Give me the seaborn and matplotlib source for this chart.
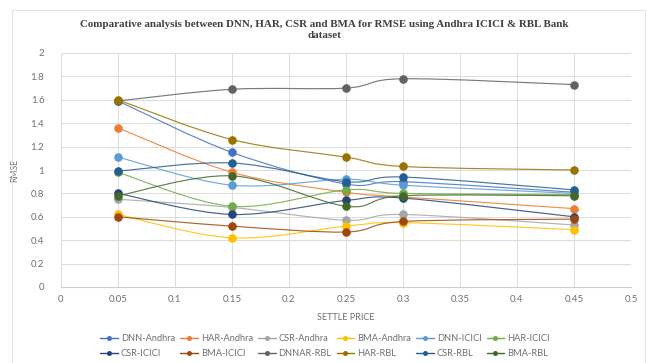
import numpy as np
import pandas as pd
import matplotlib
matplotlib.use("Agg")
import matplotlib.pyplot as plt
import seaborn as sns
from matplotlib.path import Path
from matplotlib.patches import PathPatch, Rectangle
from matplotlib.lines import Line2D

# ---------------- data ----------------
settle_price = [0.05, 0.15, 0.25, 0.3, 0.45]

series_names = ["DNN-Andhra", "HAR-Andhra", "CSR-Andhra", "BMA-Andhra",
                "DNN-ICICI", "HAR-ICICI", "CSR-ICICI", "BMA-ICICI",
                "DNNAR-RBL", "HAR-RBL", "CSR-RBL", "BMA-RBL"]

dnn_andhra = [1.59, 1.15, 0.88, 0.90, 0.81]
har_andhra = [1.36, 0.98, 0.81, 0.77, 0.67]
csr_andhra = [0.75, 0.68, 0.57, 0.62, 0.53]
bma_andhra = [0.62, 0.42, 0.52, 0.55, 0.49]
dnn_icici = [1.11, 0.87, 0.92, 0.87, 0.80]
har_icici = [0.98, 0.69, 0.83, 0.80, 0.79]
csr_icici = [0.80, 0.62, 0.74, 0.76, 0.60]
bma_icici = [0.60, 0.52, 0.47, 0.56, 0.58]
dnnar_rbl = [1.59, 1.69, 1.70, 1.78, 1.73]
har_rbl = [1.60, 1.26, 1.11, 1.03, 1.00]
csr_rbl = [0.99, 1.06, 0.90, 0.94, 0.83]
bma_rbl = [0.78, 0.95, 0.69, 0.78, 0.78]

series_values = [dnn_andhra, har_andhra, csr_andhra, bma_andhra,
                 dnn_icici, har_icici, csr_icici, bma_icici,
                 dnnar_rbl, har_rbl, csr_rbl, bma_rbl]

colors = ["#4472C4", "#ED7D31", "#A5A5A5", "#FFC000", "#5B9BD5", "#70AD47",
          "#264478", "#9E480E", "#636363", "#997300", "#255E91", "#43682B"]

x_ticks = [0, 0.05, 0.1, 0.15, 0.2, 0.25, 0.3, 0.35, 0.4, 0.45, 0.5]
x_tick_labels = ["0", "0.05", "0.1", "0.15", "0.2", "0.25", "0.3", "0.35", "0.4", "0.45", "0.5"]
y_ticks = [0, 0.2, 0.4, 0.6, 0.8, 1.0, 1.2, 1.4, 1.6, 1.8, 2.0]
y_tick_labels = ["0", "0.2", "0.4", "0.6", "0.8", "1", "1.2", "1.4", "1.6", "1.8", "2"]

df = pd.DataFrame({
    "SETTLE PRICE": np.tile(settle_price, len(series_names)),
    "RMSE": np.concatenate(series_values),
    "series": np.repeat(series_names, len(settle_price)),
})

# ---------------- style ----------------
sns.set_theme(style="white")
plt.rcParams["font.family"] = ["Lato", "DejaVu Sans"]

W, H = 647, 363
fig = plt.figure(figsize=(W / 100, H / 100), dpi=100)
ax = fig.add_axes([61 / W, (H - 287) / H, (631 - 61) / W, (287 - 53) / H])

# chart-area border
fig.patches.append(Rectangle((12 / W, -0.1), (645 - 12) / W, 1.1 - 10 / H,
                             transform=fig.transFigure, fill=False,
                             edgecolor="#e3e3e3", linewidth=0.8))


def smooth_path(xs, ys):
    """Catmull-Rom style Bezier through the data points (Excel 'smoothed line')."""
    pts = np.column_stack([xs, ys]).astype(float)
    n = len(pts)
    verts = [pts[0]]
    codes = [Path.MOVETO]
    for i in range(n - 1):
        p0 = pts[i - 1] if i > 0 else pts[i]
        p1 = pts[i]
        p2 = pts[i + 1]
        p3 = pts[i + 2] if i + 2 < n else pts[i + 1]
        c1 = p1 + (p2 - p0) / 6.0
        c2 = p2 - (p3 - p1) / 6.0
        verts += [c1, c2, p2]
        codes += [Path.CURVE4] * 3
    return Path(verts, codes)


for k, name in enumerate(series_names):
    sub = df[df["series"] == name]
    patch = PathPatch(smooth_path(sub["SETTLE PRICE"].values, sub["RMSE"].values),
                      facecolor="none", edgecolor=colors[k], linewidth=0.85,
                      zorder=3 + 2 * k, alpha=0.85)
    ax.add_patch(patch)
    sns.scatterplot(data=sub, x="SETTLE PRICE", y="RMSE", color=colors[k],
                    s=34, edgecolor=colors[k], linewidth=0.3, ax=ax,
                    zorder=4 + 2 * k, legend=False)

ax.set_xlim(0, 0.5)
ax.set_ylim(0, 2)
ax.set_xticks(x_ticks)
ax.set_xticklabels(x_tick_labels)
ax.set_yticks(y_ticks)
ax.set_yticklabels(y_tick_labels)
ax.grid(True, color="#dcdcdc", linewidth=0.7)
ax.set_axisbelow(True)
for side in ["top", "right", "left"]:
    ax.spines[side].set_visible(False)
ax.spines["bottom"].set_color("#d0d0d0")
ax.spines["bottom"].set_linewidth(0.8)
ax.tick_params(axis="both", length=0, labelsize=7, colors="#707070", pad=6)
ax.tick_params(axis="y", pad=12)

ax.set_xlabel("SETTLE PRICE", fontsize=6.5, color="#707070", labelpad=6)
ax.set_ylabel("RMSE", fontsize=6.2, color="#707070", labelpad=8)

fig.text(324 / W, 1 - 30 / H,
         "Comparative analysis between DNN, HAR, CSR and BMA for RMSE using Andhra ICICI & RBL Bank\ndataset",
         ha="center", va="center", fontsize=7.9, fontweight="bold",
         family=["Liberation Serif", "DejaVu Serif"], color="#404040",
         linespacing=1.3)

# legend: matplotlib fills columns first, so interleave to get row-wise order
ncol = 6
order = [r * ncol + c for c in range(ncol) for r in range(2)]
handles = [Line2D([0], [0], color=colors[i], lw=1.0, marker="o", markersize=3.6,
                  markeredgewidth=0) for i in order]
labels = [series_names[i] for i in order]
fig.legend(handles, labels, loc="center", ncol=ncol, frameon=False,
           bbox_to_anchor=(325 / W, 1 - 346 / H), fontsize=6.7,
           labelcolor="#707070", handlelength=1.9, handletextpad=0.3,
           columnspacing=0.55, borderaxespad=0, labelspacing=0.65)

fig.savefig("out.png", dpi=100)
